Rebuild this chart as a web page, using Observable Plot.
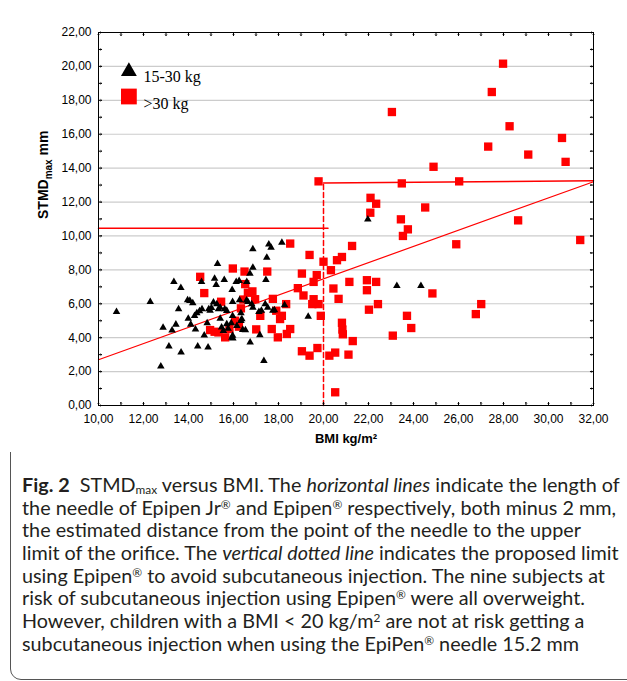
<!DOCTYPE html>
<html><head><meta charset="utf-8">
<script src="https://cdn.jsdelivr.net/npm/d3@7"></script>
<script src="https://cdn.jsdelivr.net/npm/@observablehq/plot@0.6"></script>
<style>
html,body{margin:0;padding:0;width:627px;height:681px;overflow:hidden;background:#fff;}
#box{position:absolute;left:10px;top:8px;width:640px;height:672px;border:1.5px solid #555;border-radius:11px;box-sizing:border-box;}
#chart{position:absolute;left:0;top:0;}
#caption{position:absolute;left:22px;top:474px;font-family:Lato,"Open Sans",sans-serif;font-size:19px;line-height:22.7px;color:#231f20;white-space:nowrap;transform-origin:0 0;}
#caption .ln{height:22.7px;}
#caption sub{font-size:0.6em;vertical-align:-0.15em;line-height:0;}
#caption sup{font-size:0.6em;vertical-align:0.55em;line-height:0;}
</style></head><body>
<div id="box"></div>
<div id="chart"></div>
<div id="caption">
<div class="ln"><b>Fig. 2</b>&nbsp; STMD<sub>max</sub> versus BMI. The <i>horizontal lines</i> indicate the length of</div>
<div class="ln" id="refline">the needle of Epipen Jr<sup>®</sup> and Epipen<sup>®</sup> respectively, both minus 2 mm,</div>
<div class="ln">the estimated distance from the point of the needle to the upper</div>
<div class="ln">limit of the orifice. The <i>vertical dotted line</i> indicates the proposed limit</div>
<div class="ln">using Epipen<sup>®</sup> to avoid subcutaneous injection. The nine subjects at</div>
<div class="ln">risk of subcutaneous injection using Epipen<sup>®</sup> were all overweight.</div>
<div class="ln">However, children with a BMI &lt; 20 kg/m<sup>2</sup> are not at risk getting a</div>
<div class="ln">subcutaneous injection when using the EpiPen<sup>®</sup> needle 15.2 mm</div>
</div>
<script>
// BMI (kg/m2), STMDmax (mm) — group 15-30 kg (black triangles)
const group15to30 = [
[10.8,5.53],[12.3,6.12],[12.77,2.31],[12.87,4.59],[13.13,3.49],[13.27,4.43],[13.35,7.29],[13.44,4.78],[13.56,5.69],[13.66,6.94],
[13.67,3.14],[13.96,6.22],[14.06,6.18],[13.99,5.12],[14.1,4.78],[14.19,6.04],[14.27,5.29],[14.37,5.45],[14.31,4.49],[14.41,3.49],
[14.49,5.57],[14.58,7.29],[14.6,5.69],[14.7,4.14],[14.87,3.43],[14.83,4.86],[14.9,5.69],[15.02,5.76],[15.16,7.49],[15.23,7.12],
[15.29,8.35],[15.26,5.98],[15.33,5.69],[15.41,5.12],[15.47,4.61],[15.59,7.41],[15.61,5.69],[15.7,5.59],[15.76,4.53],[15.9,4.86],
[15.94,6.82],[15.96,6.12],[15.96,4.12],[15.97,3.96],[15.96,5.29],[16.12,7.29],[16.25,7.35],[16.27,6.22],[16.33,5.45],[16.33,5.0],
[16.41,4.47],[16.53,4.45],[16.59,7.29],[16.64,6.12],[16.73,7.78],[16.74,3.73],[16.81,5.98],[16.86,9.22],[16.86,8.14],[16.86,5.78],
[17.13,5.53],[17.17,4.16],[17.35,2.63],[17.41,5.98],[17.44,7.41],[17.48,8.73],[17.57,9.51],[17.67,9.31],[17.52,5.78],[17.82,5.63],
[18.15,9.61],[18.27,5.92],[19.32,5.25],[21.97,10.98],[23.26,7.06],[24.33,7.06],
[15.11,6.08],[15.41,5.78],[16.58,6.2],[17.24,5.6],[17.75,5.6],[14.96,5.6],[15.7,4.8],[16.15,4.7],[16.37,5.1],[15.55,4.4],[15.93,4.0]
];
// group >30 kg (red squares)
const groupOver30 = [
[14.52,7.59],[14.7,6.63],[14.96,4.45],[15.16,4.35],[15.33,4.31],[15.45,6.12],[15.63,4.02],[15.82,4.51],[15.97,8.08],[16.07,5.0],
[16.24,4.65],[16.33,5.73],[16.44,6.25],[16.49,7.9],[16.52,7.16],[16.64,6.65],[16.84,6.73],[16.96,6.27],[17.01,4.49],[17.19,5.29],
[17.5,7.9],[17.7,4.51],[17.75,6.29],[17.9,5.59],[17.97,4.02],[18.07,5.1],[18.15,5.29],[18.34,5.98],[18.37,4.22],[18.52,4.51],
[18.52,9.55],[18.86,6.92],[19.04,7.78],[19.04,3.2],[19.11,6.49],[19.38,8.88],[19.38,2.94],[19.56,7.29],[19.56,6.27],[19.5,5.98],
[19.7,7.69],[19.78,5.98],[19.73,3.39],[19.88,5.29],[20.0,8.48],[20.33,7.98],[20.6,8.57],[20.82,8.76],[20.44,6.9],[20.67,6.29],
[20.82,4.88],[20.84,4.48],[20.86,4.2],[21.3,3.8],[20.26,2.94],[20.52,3.12],[21.11,3.0],[20.52,0.78],[21.27,9.41],[21.15,7.29],
[21.93,7.39],[21.93,6.8],[22.34,7.29],[22.42,5.98],[22.02,5.65],[24.84,6.61],[27.01,5.98],[26.77,5.39],[23.71,5.29],[23.9,4.57],
[23.08,4.12],[22.34,11.9],[22.08,11.37],[22.09,12.25],[24.52,11.68],[23.44,10.98],[23.75,10.39],[23.53,10.0],[28.65,10.92],[25.9,9.51],
[31.41,9.76],[27.98,20.16],[27.48,18.49],[23.04,17.31],[28.27,16.47],[30.6,15.78],[27.32,15.27],[29.1,14.8],[30.76,14.37],[24.89,14.08],
[19.78,13.22],[23.48,13.1],[26.03,13.22]
];
// reference lines
const regressionLine = [{x:10,y:2.7},{x:32,y:13.2}];
const epipenJrLine = [{x:10,y:10.45},{x:20.2,y:10.45}];
const epipenLine = [{x:20,y:13.12},{x:32,y:13.25}];
const bmiLimitLine = [{x:20,y:0},{x:20,y:13.12}];
// ticks
const xTickValues = [10,12,14,16,18,20,22,24,26,28,30,32];
const yTickValues = [0,2,4,6,8,10,12,14,16,18,20,22];
const yGridValues = [2,4,6,8,10,12,14,16,18,20];
const xMinorTicks = [10,11,12,13,14,15,16,17,18,19,20,21,22,23,24,25,26,27,28,29,30,31,32];
const yMinorTicks = [0,1,2,3,4,5,6,7,8,9,10,11,12,13,14,15,16,17,18,19,20,21,22];
const legendLabels = ["15-30 kg", ">30 kg"];

const fmt = d => d.toFixed(2).replace(".", ",");
const tickStyle = {length: 3, anchor: "start", stroke: "black", strokeWidth: 1};

const plot = Plot.plot({
  width: 627, height: 452,
  marginLeft: 98, marginRight: 34, marginTop: 32, marginBottom: 47,
  x: {domain: [10, 32]},
  y: {domain: [0, 22]},
  style: {fontFamily: "'Liberation Sans', Arial, sans-serif", fontSize: "12px", color: "black", background: "white", overflow: "visible"},
  marks: [
    Plot.gridY({ticks: yGridValues, stroke: "#cccccc", strokeOpacity: 1, strokeWidth: 1.2}),
    Plot.line(regressionLine, {x: "x", y: "y", stroke: "#ff0000", strokeWidth: 1.2}),
    Plot.line(epipenJrLine, {x: "x", y: "y", stroke: "#ff0000", strokeWidth: 1.5}),
    Plot.line(epipenLine, {x: "x", y: "y", stroke: "#ff0000", strokeWidth: 1.5}),
    Plot.line(bmiLimitLine, {x: "x", y: "y", stroke: "#ff0000", strokeWidth: 1.5, strokeDasharray: "5,3"}),
    Plot.dot(groupOver30, {x: d => d[0], y: d => d[1], symbol: "square", r: 4.7, fill: "#ff0000"}),
    Plot.dot(group15to30, {x: d => d[0], y: d => d[1], symbol: "triangle", r: 2.8, fill: "black"}),
    Plot.frame({stroke: "black", strokeWidth: 1}),
    Plot.vector(xMinorTicks, {x: d => d, frameAnchor: "bottom", rotate: 0, ...tickStyle}),
    Plot.vector(xMinorTicks, {x: d => d, frameAnchor: "top", rotate: 180, ...tickStyle}),
    Plot.vector(yMinorTicks, {y: d => d, frameAnchor: "left", rotate: 90, ...tickStyle}),
    Plot.vector(yMinorTicks, {y: d => d, frameAnchor: "right", rotate: -90, ...tickStyle}),
    Plot.axisX({ticks: xTickValues, tickSize: 0, tickPadding: 9, tickFormat: fmt, label: null}),
    Plot.axisY({ticks: yTickValues, tickSize: 0, tickPadding: 7, tickFormat: fmt, label: null}),
    // legend
    Plot.dot([legendLabels[0]], {frameAnchor: "top-left", dx: 30.4, dy: 39, symbol: "triangle", r: 5.9, fill: "black"}),
    Plot.dot([legendLabels[1]], {frameAnchor: "top-left", dx: 30.4, dy: 64, symbol: "square", r: 8.9, fill: "#ff0000"}),
    Plot.text([legendLabels[0]], {text: d => d, frameAnchor: "top-left", dx: 45, dy: 38, textAnchor: "start", fontFamily: "'Liberation Serif', 'Times New Roman', serif", fontSize: 16}),
    Plot.text([legendLabels[1]], {text: d => d, frameAnchor: "top-left", dx: 45, dy: 65, textAnchor: "start", fontFamily: "'Liberation Serif', 'Times New Roman', serif", fontSize: 16}),
    // axis titles
    Plot.text(["BMI kg/m²"], {text: d => d, frameAnchor: "bottom", dy: 37, fontWeight: "bold", fontSize: 13}),
    Plot.text(["STMDmax mm"], {text: d => d, frameAnchor: "left", dx: -55, rotate: -90, fontWeight: "bold", fontSize: 14})
  ]
});
document.getElementById("chart").appendChild(plot);
// subscript for y title
d3.select(plot).selectAll("text").each(function() {
  if (this.textContent === "STMDmax mm") {
    this.innerHTML = 'STMD<tspan font-size="10" dy="4">max</tspan><tspan dy="-4"> mm</tspan>';
  }
});
// fit caption width
const cap = document.getElementById("caption");
const ref = document.getElementById("refline");
const range = document.createRange();
range.selectNodeContents(ref);
const w = range.getBoundingClientRect().width;
const s = 594 / w;
cap.style.transform = `scaleX(${s})`;
</script>
</body></html>
